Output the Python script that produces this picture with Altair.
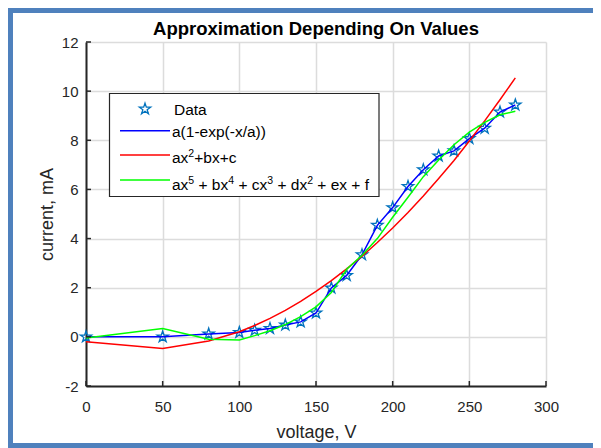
import altair as alt
import pandas as pd

# ---------------- data ----------------
voltage = [0, 50, 80, 100, 110, 120, 130, 140, 150, 160, 170, 180, 190, 200,
           210, 220, 230, 240, 250, 260, 270, 280]
current_data = [0.00, 0.00, 0.12, 0.18, 0.27, 0.34, 0.48, 0.61, 0.97, 1.99, 2.50,
                3.34, 4.54, 5.26, 6.12, 6.80, 7.36, 7.57, 8.07, 8.49, 9.15, 9.44]
fit_exp = [0.00, 0.00, 0.12, 0.18, 0.27, 0.34, 0.48, 0.61, 0.97, 1.99, 2.50,
           3.34, 4.54, 5.26, 6.12, 6.80, 7.36, 7.57, 8.07, 8.49, 9.15, 9.44]
fit_quad = [-0.20, -0.47, -0.17, 0.21, 0.46, 0.75, 1.08, 1.44, 1.85, 2.29, 2.77,
            3.28, 3.84, 4.43, 5.06, 5.73, 6.44, 7.18, 7.97, 8.79, 9.65, 10.54]
fit_poly5 = [-0.05, 0.34, -0.10, -0.13, 0.05, 0.25, 0.50, 0.82, 1.22, 1.80, 2.75,
             3.32, 4.00, 4.87, 5.68, 6.52, 7.20, 7.82, 8.33, 8.73, 9.04, 9.18]

x_ticks = [0, 50, 100, 150, 200, 250, 300]
y_ticks = [-2, 0, 2, 4, 6, 8, 10, 12]

# legend labels, split into (text, is_superscript) pieces
legend_labels = [
    [("Data", False)],
    [("a(1-exp(-x/a))", False)],
    [("ax", False), ("2", True), ("+bx+c", False)],
    [("ax", False), ("5", True), (" + bx", False), ("4", True), (" + cx", False),
     ("3", True), (" + dx", False), ("2", True), (" + ex + f", False)],
]

title_text = "Approximation Depending On Values"
x_title = "voltage, V"
y_title = "current, mA"

# ---------------- styling ----------------
FONT = "Liberation Sans"
DARK = "#262626"
GRID = "#dcdcdc"
STAR_COLOR = "#0072BD"
LINE_COLORS = ["#0000FF", "#FF0000", "#00FF00"]
FRAME = "#4F81BD"
STAR = ("M0,-1L0.2245,-0.309L0.951,-0.309L0.363,0.118L0.588,0.809L0,0.382"
        "L-0.588,0.809L-0.363,0.118L-0.951,-0.309L-0.2245,-0.309Z")
STAR_SIZE = 140
LEG_FS = 15.5
SUP_FS = 10.5
SUP_RAISE = 6
# Arial / Liberation Sans advance widths (em) for layout of the legend pieces
ADV = {"a": 0.556, "x": 0.5, " ": 0.278, "+": 0.584, "b": 0.556, "c": 0.5,
       "d": 0.556, "e": 0.556, "f": 0.278, "(": 0.333, ")": 0.333, "-": 0.333,
       "p": 0.556, "/": 0.278, "D": 0.722, "t": 0.278}


def text_width(s, fs):
    return sum(ADV.get(ch, 0.556) for ch in s) * fs


W, H = 460, 344

df = pd.DataFrame({
    "voltage": voltage,
    "data": current_data,
    "exp": fit_exp,
    "quad": fit_quad,
    "poly": fit_poly5,
})
dummy = pd.DataFrame({"d": [0]})

xs = alt.Scale(domain=[0, 300], nice=False, zero=False)
ys = alt.Scale(domain=[-2, 12], nice=False, zero=False)

minus_fix = "replace(datum.label, '\u2212', '-')"
x_axis = alt.Axis(values=x_ticks, title=x_title, labelPadding=13, labelExpr=minus_fix,
                  titleY=51, titleBaseline="alphabetic")
y_axis = alt.Axis(values=y_ticks, title=y_title, labelPadding=8, labelExpr=minus_fix,
                  titleX=-34, titleY=H / 2, titleBaseline="alphabetic")

base = alt.Chart(df)

stars = base.mark_point(shape=STAR, filled=False, size=STAR_SIZE, strokeWidth=1.3,
                        color=STAR_COLOR, opacity=1).encode(
    x=alt.X("voltage:Q", scale=xs, axis=x_axis),
    y=alt.Y("data:Q", scale=ys, axis=y_axis),
)

line_layers = []
for field, col in zip(["exp", "quad", "poly"], LINE_COLORS):
    line_layers.append(
        base.mark_line(color=col, strokeWidth=1.5).encode(
            x=alt.X("voltage:Q", scale=xs, axis=x_axis),
            y=alt.Y(f"{field}:Q", scale=ys, axis=y_axis),
        )
    )

# inward ticks
ytick_df = pd.DataFrame({"t": y_ticks})
xtick_df = pd.DataFrame({"t": x_ticks})
yticks = alt.Chart(ytick_df).mark_rule(color=DARK, strokeWidth=1.5).encode(
    y=alt.Y("t:Q", scale=ys, axis=y_axis), x=alt.value(0), x2=alt.value(5))
xticks = alt.Chart(xtick_df).mark_rule(color=DARK, strokeWidth=1.5).encode(
    x=alt.X("t:Q", scale=xs, axis=x_axis), y=alt.value(H), y2=alt.value(H - 5))

# title as text
title_mark = alt.Chart(dummy).mark_text(
    text=title_text, align="center", baseline="alphabetic", fontSize=18.5,
    fontWeight="bold", font=FONT, color="black").encode(
    x=alt.value(W / 2), y=alt.value(-7.5))

# legend (drawn manually to reproduce the MATLAB box)
leg_box = alt.Chart(dummy).mark_rect(fill="white", stroke=DARK, strokeWidth=1.2).encode(
    x=alt.value(23.5), x2=alt.value(293), y=alt.value(51.5), y2=alt.value(154.5))
leg_star = alt.Chart(dummy).mark_point(shape=STAR, filled=False, size=STAR_SIZE,
                                       strokeWidth=1.3, color=STAR_COLOR, opacity=1).encode(
    x=alt.value(59), y=alt.value(67))
leg_line_y = [88.7, 113, 138]
leg_text_y = [73, 95, 121, 148]
leg_layers = [leg_box, leg_star]
for ly, col in zip(leg_line_y, LINE_COLORS):
    leg_layers.append(alt.Chart(dummy).mark_rule(color=col, strokeWidth=1.5).encode(
        x=alt.value(34), x2=alt.value(84), y=alt.value(ly)))
for i, (pieces, ty) in enumerate(zip(legend_labels, leg_text_y)):
    cx = 88 if i == 0 else 86
    for txt, sup in pieces:
        fs = SUP_FS if sup else LEG_FS
        lead = len(txt) - len(txt.lstrip(" "))
        trail = len(txt) - len(txt.rstrip(" "))
        core = txt.strip(" ")
        cx += text_width(" " * lead, fs)
        leg_layers.append(alt.Chart(dummy).mark_text(
            text=core, align="left", baseline="alphabetic", fontSize=fs, font=FONT,
            color="black").encode(x=alt.value(cx),
                                  y=alt.value(ty - SUP_RAISE if sup else ty)))
        cx += text_width(core, fs) + text_width(" " * trail, fs)

# blue figure frame
frame_layers = [
    alt.Chart(dummy).mark_rule(color=FRAME, strokeWidth=5).encode(
        x=alt.value(-80), x2=alt.value(510), y=alt.value(-31.5)),
    alt.Chart(dummy).mark_rule(color=FRAME, strokeWidth=5).encode(
        x=alt.value(-75.5), y=alt.value(-34), y2=alt.value(406)),
    alt.Chart(dummy).mark_rule(color=FRAME, strokeWidth=5).encode(
        x=alt.value(-80), x2=alt.value(510), y=alt.value(403.5)),
]

chart = alt.layer(stars, *line_layers, yticks, xticks, title_mark, *leg_layers,
                  *frame_layers).properties(
    width=W, height=H,
    padding={"left": 78, "top": 34, "right": 47, "bottom": 62},
    autosize=alt.AutoSizeParams(type="none"),
    background="white",
).configure_view(stroke=None).configure_axis(
    grid=True, ticks=False, labelFontSize=15, labelFont=FONT, labelColor=DARK,
    labelFlush=False, labelOverlap=False,
    domainColor=DARK, domainWidth=2, gridColor=GRID, gridWidth=1.5,
    titleFontSize=18, titleFont=FONT, titleFontWeight="normal", titleColor=DARK,
)

chart.save("out.html", embed_options={"renderer": "svg", "actions": False})
